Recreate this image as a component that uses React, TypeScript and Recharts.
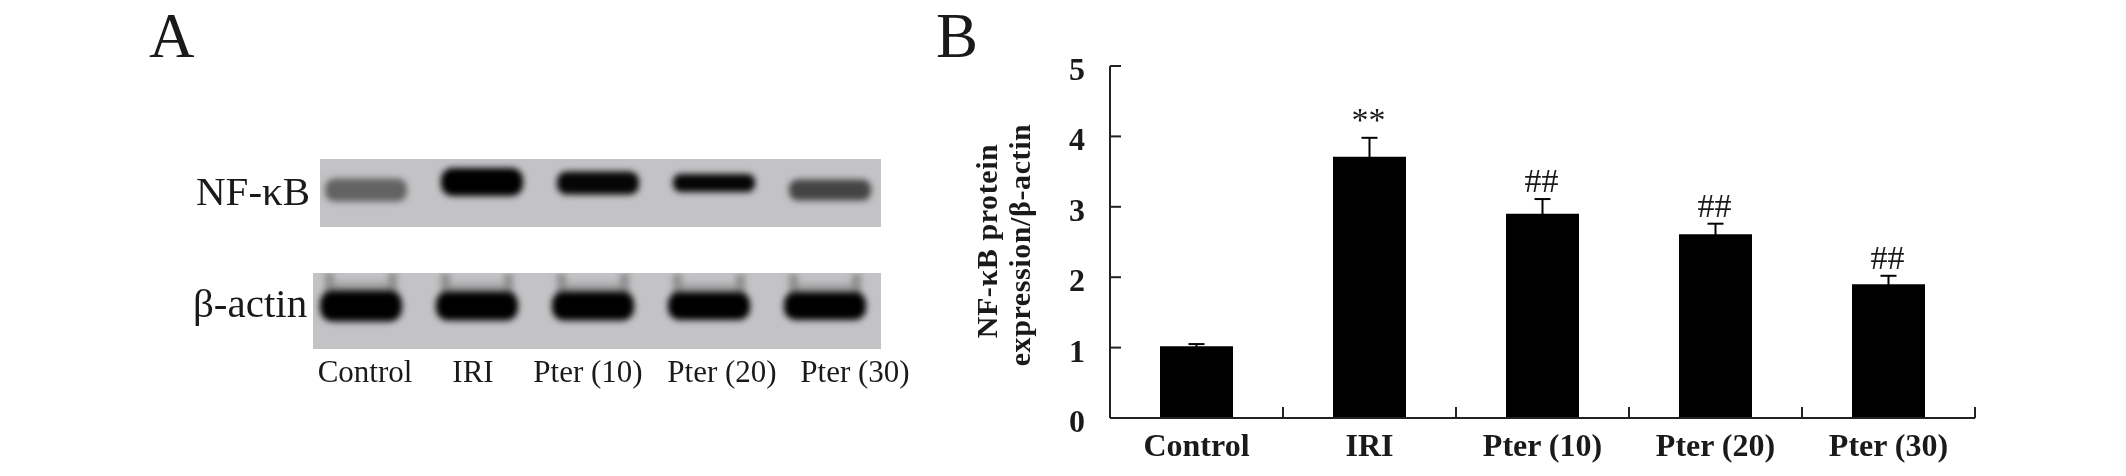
import React from 'react';
import { BarChart, Bar, XAxis, YAxis, ErrorBar, LabelList } from 'recharts';

const categories = ['Control', 'IRI', 'Pter (10)', 'Pter (20)', 'Pter (30)'];
const proteinValues = [1.02, 3.71, 2.9, 2.61, 1.9];
const proteinErrors = [0.03, 0.27, 0.21, 0.15, 0.12];
const significance = ['', '**', '##', '##', '##'];
const yTicks = [0, 1, 2, 3, 4, 5];

const nfkbThickness = [23, 28, 23, 18, 21];
const nfkbDensity = [0.35, 1, 0.97, 0.97, 0.55];
const actinThickness = [31, 29, 29, 28, 28];
const actinDensity = [1, 1, 1, 1, 1];

// layout of panel A (not data)
const nfkbCenters = [31, 23, 24, 24, 31];
const actinCenters = [33, 33, 33, 33, 33];
const blotLabelX = [365, 473, 588, 722, 855];

const serif = '"Liberation Serif", serif';

const chartData = categories.map((name, i) => ({
  name,
  value: proteinValues[i],
  error: proteinErrors[i],
  mark: significance[i],
}));

const BlotBand = (props: any) => {
  const { x, width, payload } = props;
  const t = payload.thickness;
  const cy = payload.cy;
  const g = Math.round(150 * (1 - payload.density));
  return (
    <g>
      {payload.streak && (
        <g style={{ filter: 'blur(3px)' }}>
          <rect x={x + 6} y={cy - t / 2 - 18} width={9} height={24} fill="#777" opacity={0.7} />
          <rect x={x + width - 15} y={cy - t / 2 - 18} width={9} height={24} fill="#777" opacity={0.7} />
          <rect x={x + 15} y={cy - t / 2 - 9} width={width - 30} height={14} fill="#8a8a8a" opacity={0.55} />
        </g>
      )}
      <rect
        x={x + 1}
        y={cy - t / 2}
        width={width - 2}
        height={t}
        rx={t / 2.4}
        fill={`rgb(${g},${g},${g})`}
        style={{ filter: 'blur(3px)' }}
      />
    </g>
  );
};

const BlotRow = ({ thickness, density, centers, streak, top, height, stripLeft }: any) => {
  const data = categories.map((name, i) => ({
    name,
    thickness: thickness[i],
    density: density[i],
    cy: centers[i],
    streak,
    full: 1,
  }));
  return (
    <div
      style={{
        position: 'absolute',
        left: stripLeft,
        top,
        width: 881 - stripLeft,
        height,
        background: '#c3c3c6',
        overflow: 'hidden',
      }}
    >
      <div style={{ position: 'absolute', left: 308 - stripLeft + (streak ? -5 : 0), top: 0 }}>
        <BarChart width={580} height={height} data={data} margin={{ top: 0, right: 0, bottom: 0, left: 0 }} barCategoryGap={16}>
          <XAxis dataKey="name" hide />
          <YAxis hide domain={[0, 1]} />
          <Bar dataKey="full" shape={<BlotBand />} isAnimationActive={false} />
        </BarChart>
      </div>
    </div>
  );
};

const textAt = (x: number, y: number, size: number, anchor = 'start'): React.CSSProperties => ({
  position: 'absolute',
  left: x,
  top: y,
  fontFamily: serif,
  fontSize: size,
  lineHeight: 1,
  whiteSpace: 'nowrap',
  color: '#1a1a1a',
  transform: anchor === 'middle' ? 'translateX(-50%)' : undefined,
});

const YTick = ({ x, y, payload }: any) => (
  <g>
    <line x1={x} x2={x + 11} y1={y} y2={y} stroke="#222" strokeWidth={2} />
    <text x={x - 33} y={y + 14} textAnchor="middle" fontFamily={serif} fontWeight="bold" fontSize={32} fill="#1a1a1a">
      {payload.value}
    </text>
  </g>
);

const XTick = ({ x, y, payload }: any) => (
  <g>
    <line x1={x + 86.5} x2={x + 86.5} y1={y} y2={y - 11} stroke="#222" strokeWidth={2} />
    <text x={x} y={y + 38} textAnchor="middle" fontFamily={serif} fontWeight="bold" fontSize={32} fill="#1a1a1a">
      {payload.value}
    </text>
  </g>
);

const MarkLabel = ({ x, y, width, value, index }: any) => {
  if (!value) return null;
  const errPx = proteinErrors[index] * 70.4;
  return (
    <text
      x={x + width / 2 - 1}
      y={y - errPx - 7}
      textAnchor="middle"
      fontFamily={serif}
      fontSize={34}
      fill="#1a1a1a"
    >
      {value}
    </text>
  );
};

export default function App() {
  return (
    <div style={{ position: 'relative', width: 2126, height: 476, background: '#fff', overflow: 'hidden', filter: 'blur(0.6px)' }}>
      <style>{`body{margin:0;background:#fff}`}</style>

      <div style={textAt(149, 5, 63)}>A</div>
      <div style={textAt(936, 5, 63)}>B</div>

      <div style={textAt(196, 171, 41)}>NF-κB</div>
      <div style={textAt(193, 283, 41)}>β-actin</div>

      <BlotRow
        thickness={nfkbThickness}
        density={nfkbDensity}
        centers={nfkbCenters}
        streak={false}
        top={159}
        height={68}
        stripLeft={320}
      />
      <BlotRow
        thickness={actinThickness}
        density={actinDensity}
        centers={actinCenters}
        streak
        top={273}
        height={76}
        stripLeft={313}
      />

      {categories.map((c, i) => (
        <div key={c} style={textAt(blotLabelX[i], 356, 31, 'middle')}>
          {c}
        </div>
      ))}

      <div style={{ position: 'absolute', left: 900, top: 0 }}>
        <BarChart
          width={1226}
          height={476}
          data={chartData}
          margin={{ top: 66, right: 151, bottom: 0, left: 150 }}
          barCategoryGap={50}
        >
          <XAxis
            dataKey="name"
            height={58}
            tickSize={0}
            tickMargin={0}
            interval={0}
            tick={<XTick />}
            axisLine={{ stroke: '#222', strokeWidth: 2 }}
          />
          <YAxis
            width={60}
            domain={[0, 5]}
            ticks={yTicks}
            tickSize={0}
            tickMargin={0}
            interval={0}
            tick={<YTick />}
            axisLine={{ stroke: '#222', strokeWidth: 2 }}
          />
          <Bar dataKey="value" fill="#000" isAnimationActive={false}>
            <ErrorBar dataKey="error" direction="y" width={8} stroke="#000" strokeWidth={2} isAnimationActive={false} />
            <LabelList dataKey="mark" content={<MarkLabel />} />
          </Bar>
          <text transform="translate(97,241) rotate(-90)" textAnchor="middle" fontFamily={serif} fontWeight="bold" fontSize={30} letterSpacing={0.6} fill="#1a1a1a">
            NF-κB protein
          </text>
          <text transform="translate(130,245) rotate(-90)" textAnchor="middle" fontFamily={serif} fontWeight="bold" fontSize={30} letterSpacing={0.6} fill="#1a1a1a">
            expression/β-actin
          </text>
        </BarChart>
      </div>
    </div>
  );
}
